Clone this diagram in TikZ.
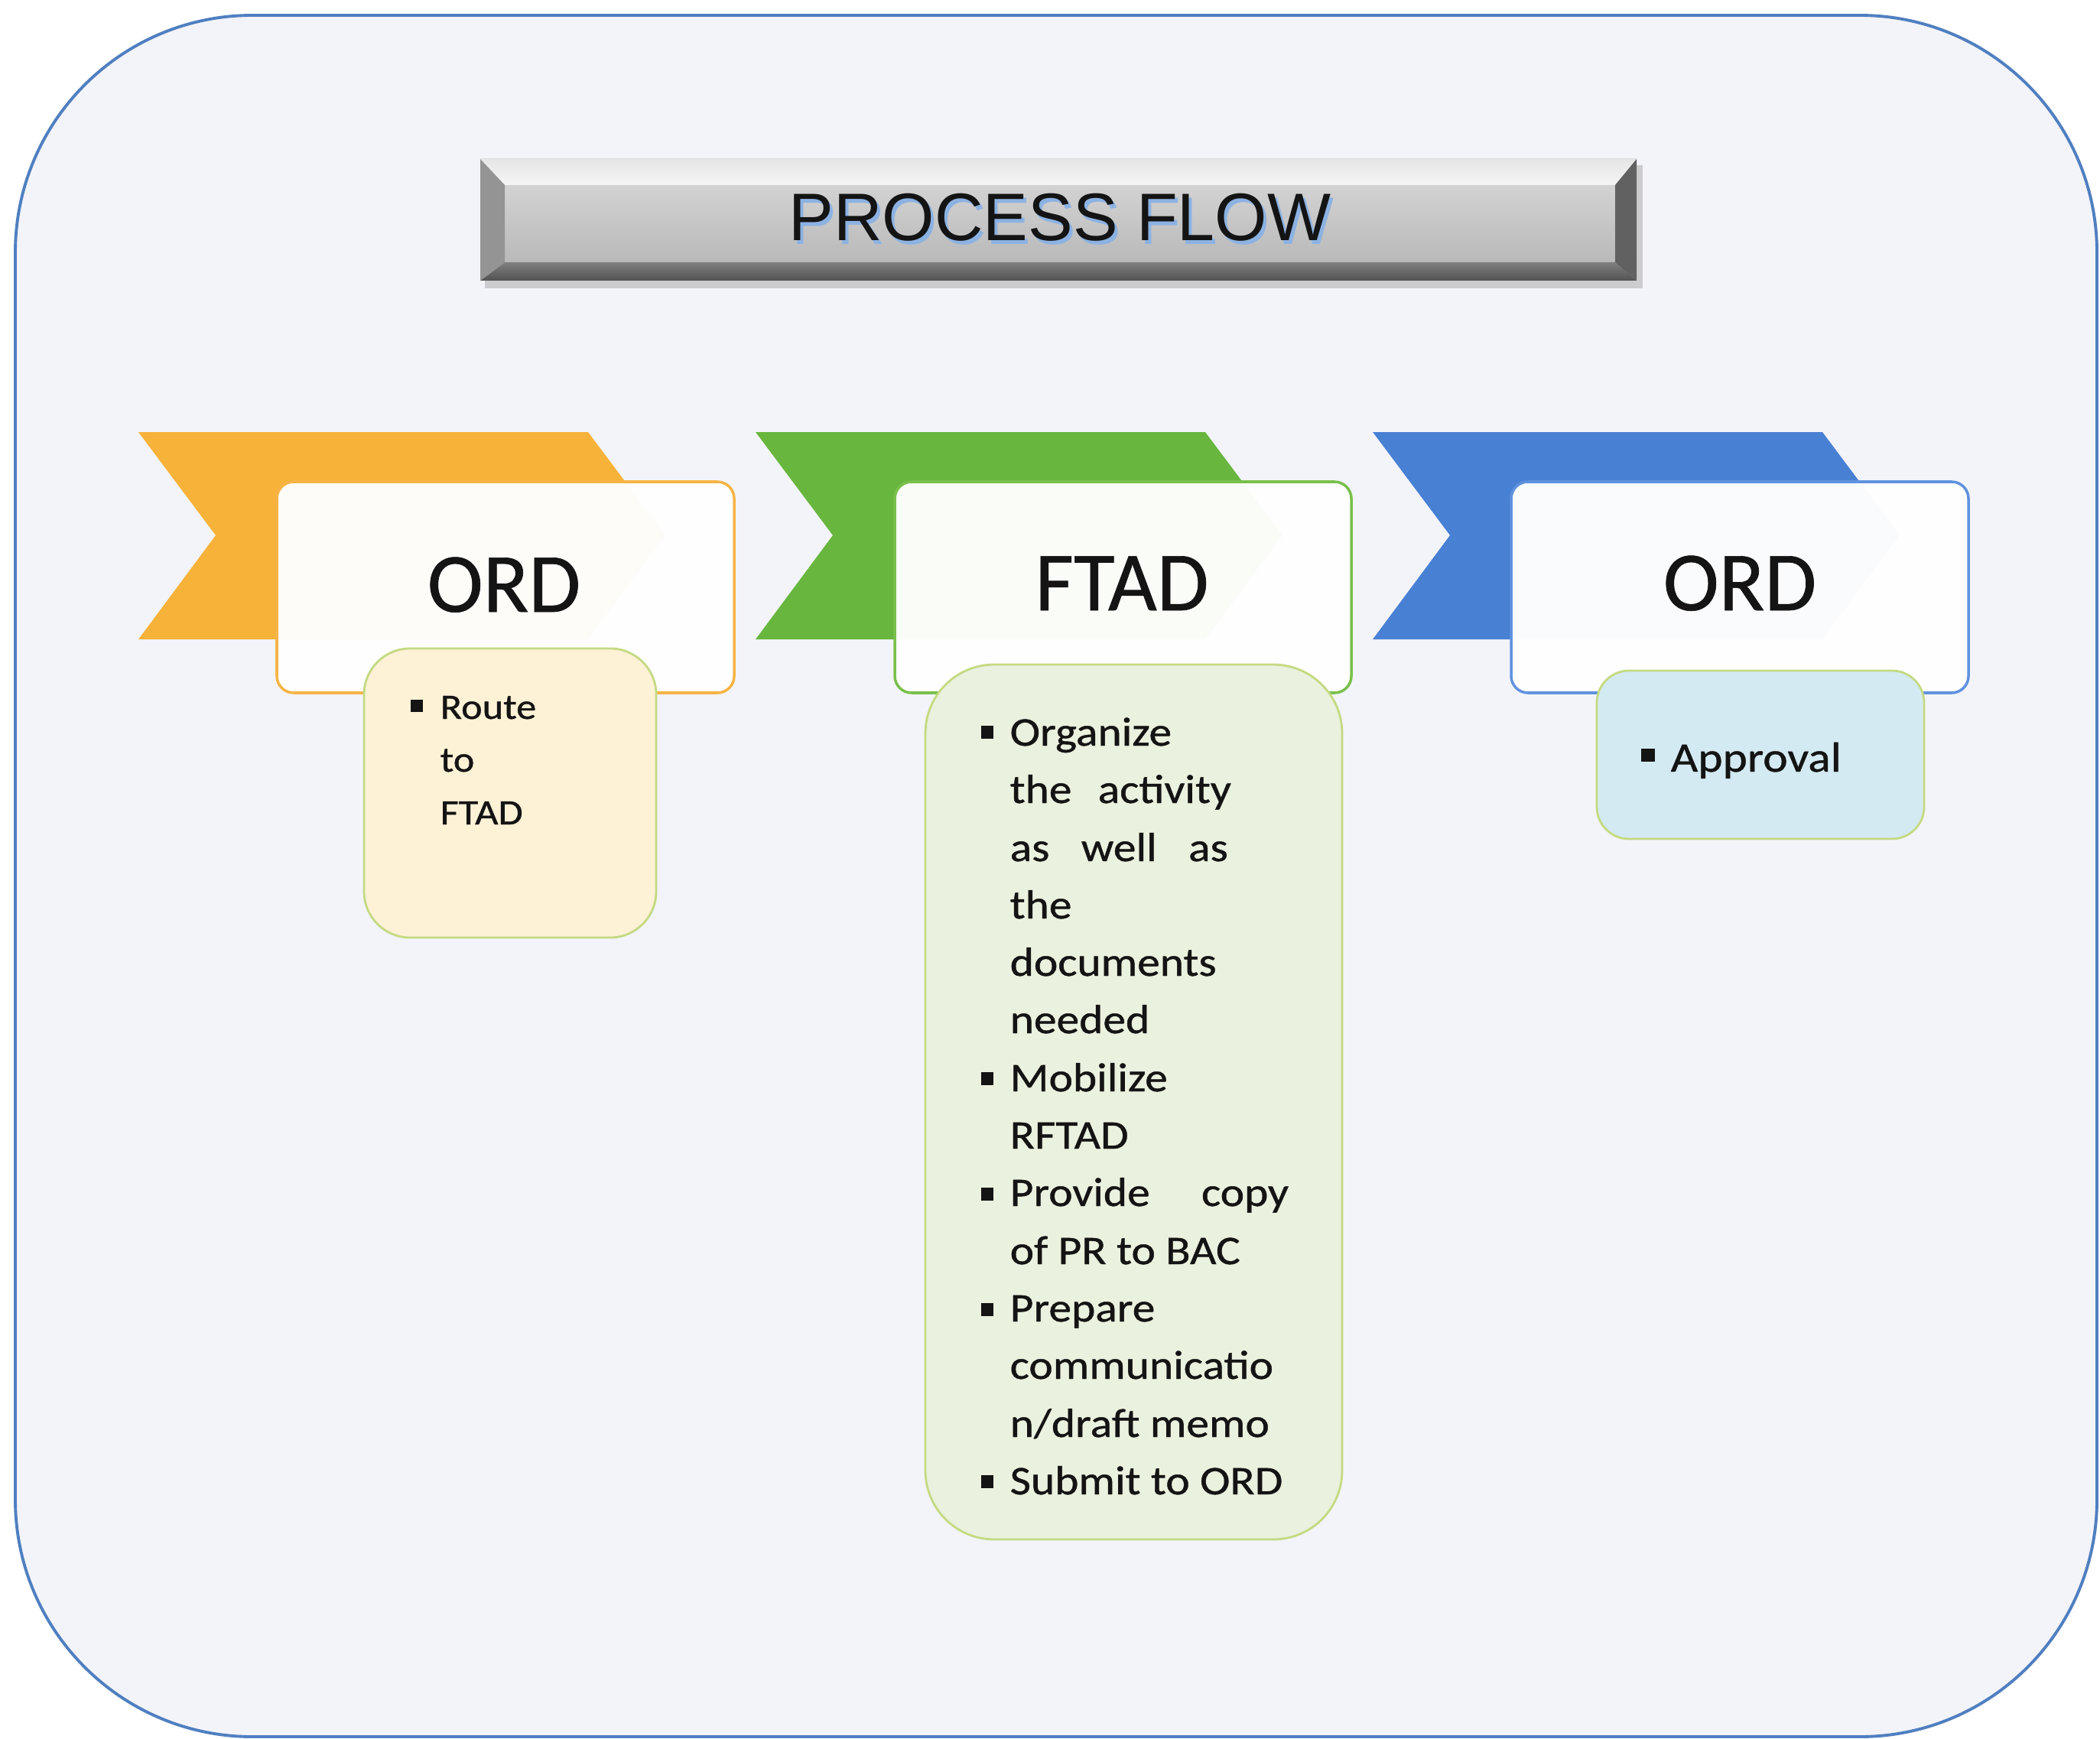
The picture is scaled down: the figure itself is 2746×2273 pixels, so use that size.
\documentclass[tikz,border=0pt]{standalone}
\usepackage{fontspec}
\setmainfont{Carlito}
\newfontfamily\headfont[FakeBold=0.6]{Carlito}
\newfontfamily\smallfont[FakeStretch=1.12,FakeBold=0.8]{Carlito}
\newfontfamily\titlefont{Liberation Sans}
\definecolor{bgfill}{RGB}{243,244,250}
\definecolor{bgline}{RGB}{79,127,192}
\definecolor{corange}{RGB}{247,178,58}
\definecolor{cgreen}{RGB}{104,182,62}
\definecolor{cblue}{RGB}{72,128,212}
\definecolor{borange}{RGB}{247,180,70}
\definecolor{bgreen}{RGB}{121,192,76}
\definecolor{bblue}{RGB}{96,146,222}
\definecolor{done}{RGB}{253,241,214}
\definecolor{dtwo}{RGB}{234,241,222}
\definecolor{dthree}{RGB}{212,234,242}
\definecolor{dline}{RGB}{196,218,130}
\definecolor{txt}{RGB}{20,20,20}
\definecolor{tshadow}{RGB}{140,178,226}
\begin{document}
\begin{tikzpicture}[x=0.01cm,y=-0.01cm,
  whitebox/.style={fill=white,fill opacity=0.97,line width=1pt,rounded corners=0.22cm},
  detail/.style={line width=0.8pt,draw=dline},
  head/.style={anchor=base,inner sep=0,text=txt,font=\headfont\fontsize{31.3pt}{31.3pt}\selectfont},
  tone/.style={anchor=base west,inner sep=0,text=txt,font=\smallfont\fontsize{13.3pt}{15pt}\selectfont},
  ttwo/.style={anchor=base west,inner sep=0,text=txt,font=\smallfont\fontsize{15.1pt}{18pt}\selectfont},
  tthree/.style={anchor=base west,inner sep=0,text=txt,font=\smallfont\fontsize{15.6pt}{18pt}\selectfont},
  bul/.style={fill=txt}]
\useasboundingbox (0,0) rectangle (2746,2273);
\fill[white] (0,0) rectangle (2746,2273);
% outer panel
\draw[fill=bgfill,draw=bgline,line width=1.1pt,rounded corners=3.1cm] (20,20) rectangle (2742,2271);
% title bar
\fill[black!35,opacity=0.5] (634,216) rectangle (2148,377);
\shade[top color=black!14,bottom color=black!30] (628,208) rectangle (2140,367);
\shade[top color=black!10,bottom color=black!4] (628,208) -- (2140,208) -- (2112,242) -- (660,242) -- cycle;
\shade[top color=black!50,bottom color=black!68] (628,367) -- (2140,367) -- (2112,343) -- (660,343) -- cycle;
\fill[black!42] (628,208) -- (660,242) -- (660,343) -- (628,367) -- cycle;
\fill[black!62] (2140,208) -- (2112,242) -- (2112,343) -- (2140,367) -- cycle;
\node[anchor=base,inner sep=0,text=tshadow,font=\titlefont\fontsize{25pt}{25pt}\selectfont] (titleshadow) at (1390,320) {PROCESS FLOW};
\node[anchor=base,inner sep=0,text=txt,font=\titlefont\fontsize{25pt}{25pt}\selectfont] (title) at (1386,315) {PROCESS FLOW};
% chevrons
\fill[corange] (181,565) -- (769,565) -- (870,700) -- (769,836) -- (181,836) -- (282,700) -- cycle;
\fill[cgreen] (988,565) -- (1576,565) -- (1677,700) -- (1576,836) -- (988,836) -- (1089,700) -- cycle;
\fill[cblue] (1795,565) -- (2383,565) -- (2484,700) -- (2383,836) -- (1795,836) -- (1896,700) -- cycle;
% white boxes
\draw[whitebox,draw=borange] (362,630) rectangle (960,906);
\draw[whitebox,draw=bgreen] (1170,630) rectangle (1767,906);
\draw[whitebox,draw=bblue] (1976,630) rectangle (2574,906);
\node[head] (h1) at (659,800) {ORD};
\node[head] (h2) at (1467,798) {FTAD};
\node[head] (h3) at (2275,798) {ORD};
% detail boxes
\draw[detail,fill=done,rounded corners=0.6cm] (476,848) rectangle (858,1226);
\draw[detail,fill=dtwo,rounded corners=0.9cm] (1210,869) rectangle (1755,2013);
\draw[detail,fill=dthree,rounded corners=0.42cm] (2088,877) rectangle (2516,1097);
% box 1 text
\fill[bul] (537,915) rectangle (553,931);
\node[tone] (r1) at (575,940) {Route};
\node[tone] (r2) at (575,1009) {to};
\node[tone] (r3) at (575,1078) {FTAD};
% box 2 text
\fill[bul] (1283,949) rectangle (1299,966);
\node[ttwo] (f1) at (1320,975) {Organize};
\node[ttwo] (f2) at (1320,1050) {\makebox[2.89cm][s]{the\hfill activity}};
\node[ttwo] (f3) at (1320,1126) {\makebox[2.85cm][s]{as\hfill well\hfill as}};
\node[ttwo] (f4) at (1320,1201) {the};
\node[ttwo] (f5) at (1320,1276) {documents};
\node[ttwo] (f6) at (1320,1351) {needed};
\fill[bul] (1283,1402) rectangle (1299,1419);
\node[ttwo] (f7) at (1320,1427) {Mobilize};
\node[ttwo] (f8) at (1320,1502) {RFTAD};
\fill[bul] (1283,1553) rectangle (1299,1570);
\node[ttwo] (f9) at (1320,1577) {\makebox[3.64cm][s]{Provide\hfill copy}};
\node[ttwo] (f10) at (1320,1653) {of PR to BAC};
\fill[bul] (1283,1704) rectangle (1299,1721);
\node[ttwo] (f11) at (1320,1728) {Prepare};
\node[ttwo] (f12) at (1320,1803) {communicatio};
\node[ttwo] (f13) at (1320,1879) {n/draft memo};
\fill[bul] (1283,1929) rectangle (1299,1946);
\node[ttwo] (f14) at (1320,1954) {Submit to ORD};
% box 3 text
\fill[bul] (2146,979) rectangle (2164,996);
\node[tthree] (a1) at (2184,1009) {Approval};
\end{tikzpicture}
\end{document}
